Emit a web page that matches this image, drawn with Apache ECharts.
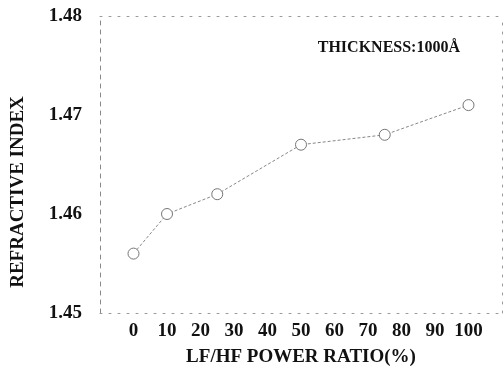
<!DOCTYPE html>
<html><head><meta charset="utf-8">
<script src="https://cdn.jsdelivr.net/npm/echarts@6/dist/echarts.min.js"></script>
<style>html,body{margin:0;padding:0;background:#fff}#c{width:504px;height:372px}</style>
</head><body><div id="c"></div>
<script>
const ratios = [0, 10, 25, 50, 75, 100];
const refractiveIndex = [1.456, 1.460, 1.462, 1.467, 1.468, 1.471];
const xTicks = [0, 10, 20, 30, 40, 50, 60, 70, 80, 90, 100];
const yTicks = [1.45, 1.46, 1.47, 1.48];
const note = 'THICKNESS:1000Å';
const xName = 'LF/HF POWER RATIO(%)';
const yName = 'REFRACTIVE INDEX';

const font = '"Liberation Serif", "DejaVu Serif", serif';
const frameLine = {show: true, onZero: false, lineStyle: {color: '#999', type: [2, 7], width: 1}};
const chart = echarts.init(document.getElementById('c'), null, {renderer: 'canvas'});
chart.setOption({
  animation: false,
  backgroundColor: '#fff',
  grid: {left: 100, right: 2, top: 16, bottom: 59, containLabel: false, outerBoundsMode: 'none'},
  title: {text: note, right: 39, top: 35,
          textStyle: {fontFamily: font, fontWeight: 'bold', fontSize: 16, color: '#111'}},
  graphic: [{
    type: 'text', x: 18, y: 192, rotation: Math.PI / 2,
    style: {text: yName, fontFamily: font, fontWeight: 'bold', fontSize: 19, fill: '#111',
            align: 'center', verticalAlign: 'middle'}
  }],
  xAxis: [{
    type: 'value', min: -10, max: 110, interval: 10,
    name: xName, nameLocation: 'middle', nameGap: 35,
    nameTextStyle: {fontFamily: font, fontWeight: 'bold', fontSize: 19, color: '#111'},
    axisLine: frameLine,
    axisTick: {show: false},
    splitLine: {show: false},
    axisLabel: {fontFamily: font, fontWeight: 'bold', fontSize: 19, color: '#111', margin: 9,
      formatter: v => xTicks.includes(Math.round(v)) ? String(Math.round(v)) : ''}
  }, {
    type: 'value', position: 'top', min: -10, max: 110,
    axisLine: frameLine, axisTick: {show: false}, axisLabel: {show: false}, splitLine: {show: false}
  }],
  yAxis: [{
    type: 'value', min: 1.45, max: 1.48, interval: 0.01,
    axisLine: {show: true, onZero: false, lineStyle: {color: '#888', type: [4, 5], width: 1}},
    axisTick: {show: false},
    splitLine: {show: false},
    axisLabel: {fontFamily: font, fontWeight: 'bold', fontSize: 19, color: '#111', margin: 18,
      formatter: v => { const t = yTicks.find(y => Math.abs(y - v) < 1e-6); return t !== undefined ? t.toFixed(2) : ''; }}
  }, {
    type: 'value', position: 'right', min: 1.45, max: 1.48,
    axisLine: frameLine, axisTick: {show: false}, axisLabel: {show: false}, splitLine: {show: false}
  }],
  series: [{
    type: 'line',
    data: ratios.map((r, i) => [r, refractiveIndex[i]]),
    symbol: 'circle', symbolSize: 11, showSymbol: true,
    itemStyle: {color: '#fff', borderColor: '#777', borderWidth: 1},
    lineStyle: {color: '#888', width: 1, type: [3, 2]}
  }]
});
</script></body></html>
